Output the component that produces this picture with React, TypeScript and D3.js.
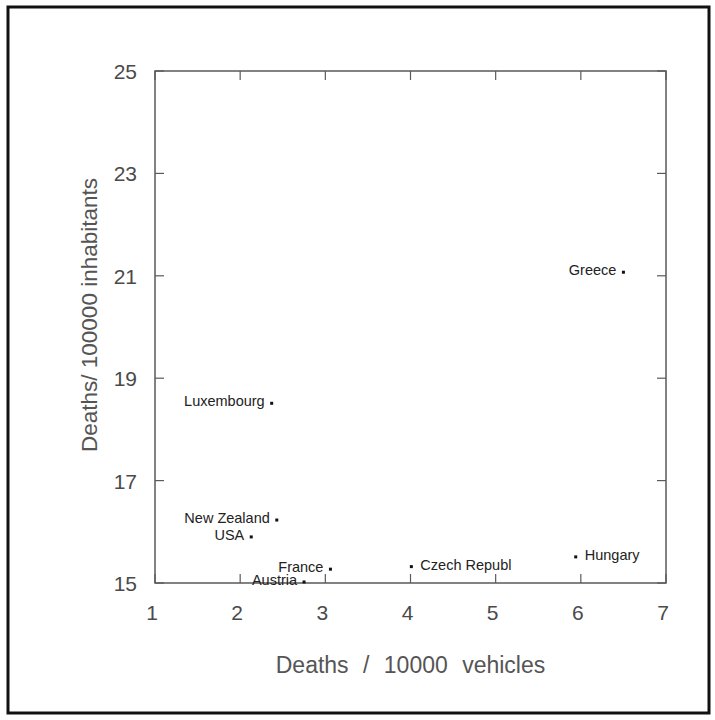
import React from "react";
import * as d3 from "d3";

// values
const countries = ["Greece", "Luxembourg", "New Zealand", "USA", "France", "Austria", "Czech Republ", "Hungary"];
const perVehicles = [6.5, 2.37, 2.43, 2.13, 3.06, 2.75, 4.01, 5.94];
const perInhabitants = [21.07, 18.51, 16.23, 15.9, 15.27, 15.02, 15.32, 15.51];
const rightLabelled = ["Czech Republ", "Hungary"];

const xTicks = [1, 2, 3, 4, 5, 6, 7];
const yTicks = [15, 17, 19, 21, 23, 25];

const W = 715, H = 720;
const margin = { top: 71, right: 49, bottom: 137, left: 155 };

export default function App() {
  const x = d3.scaleLinear().domain([1, 7]).range([margin.left, W - margin.right]);
  const y = d3.scaleLinear().domain([15, 25]).range([H - margin.bottom, margin.top]);
  const [x0, x1] = x.range();
  const [y0, y1] = y.range();
  const tickLen = 9;
  const axisCol = "#5a5a5a";
  const font = "'Liberation Sans', Arial, sans-serif";

  const pts = countries.map((c, i) => ({ name: c, vx: perVehicles[i], vy: perInhabitants[i] }));

  return (
    <svg width={W} height={H} style={{ position: "absolute", left: 0, top: 0, background: "#fff" }}>
      <rect x={8} y={7} width={701} height={706} fill="#fff" stroke="#111" strokeWidth={3} />

      {/* plot frame */}
      <rect x={x0} y={y1} width={x1 - x0} height={y0 - y1} fill="none" stroke={axisCol} strokeWidth={1.5} />

      {/* inward ticks */}
      {xTicks.map((t) => (
        <g key={"xt" + t}>
          <line x1={x(t)} x2={x(t)} y1={y0} y2={y0 - tickLen} stroke={axisCol} strokeWidth={1.2} />
          <line x1={x(t)} x2={x(t)} y1={y1} y2={y1 + tickLen} stroke={axisCol} strokeWidth={1.2} />
          <text x={x(t) - 3} y={y0 + 37} textAnchor="middle" fontFamily={font} fontSize={21} fill="#4a4a4a">{t}</text>
        </g>
      ))}
      {yTicks.map((t) => (
        <g key={"yt" + t}>
          <line x1={x0} x2={x0 + tickLen} y1={y(t)} y2={y(t)} stroke={axisCol} strokeWidth={1.2} />
          <line x1={x1} x2={x1 - tickLen} y1={y(t)} y2={y(t)} stroke={axisCol} strokeWidth={1.2} />
          <text x={x0 - 18} y={y(t) + 8} textAnchor="end" fontFamily={font} fontSize={21} fill="#4a4a4a">{t}</text>
        </g>
      ))}

      {/* points and labels */}
      {pts.map((p) => {
        const right = rightLabelled.includes(p.name);
        return (
          <g key={p.name}>
            <rect x={x(p.vx) - 1.5} y={y(p.vy) - 1.5} width={3} height={3} fill="#111" />
            <text
              x={right ? x(p.vx) + 9 : x(p.vx) - 7}
              y={y(p.vy) + 3}
              textAnchor={right ? "start" : "end"}
              fontFamily={font}
              fontSize={14.5}
              fill="#222"
            >
              {p.name}
            </text>
          </g>
        );
      })}

      {/* axis titles */}
      <text x={(x0 + x1) / 2} y={673} textAnchor="middle" fontFamily={font} fontSize={23} fill="#555" style={{ wordSpacing: "8px" }}>
        Deaths / 10000 vehicles
      </text>
      <text
        transform={`translate(${97},${315}) rotate(-90)`}
        textAnchor="middle"
        fontFamily={font}
        fontSize={22.5}
        fill="#555"
      >
        Deaths/ 100000 inhabitants
      </text>
    </svg>
  );
}
